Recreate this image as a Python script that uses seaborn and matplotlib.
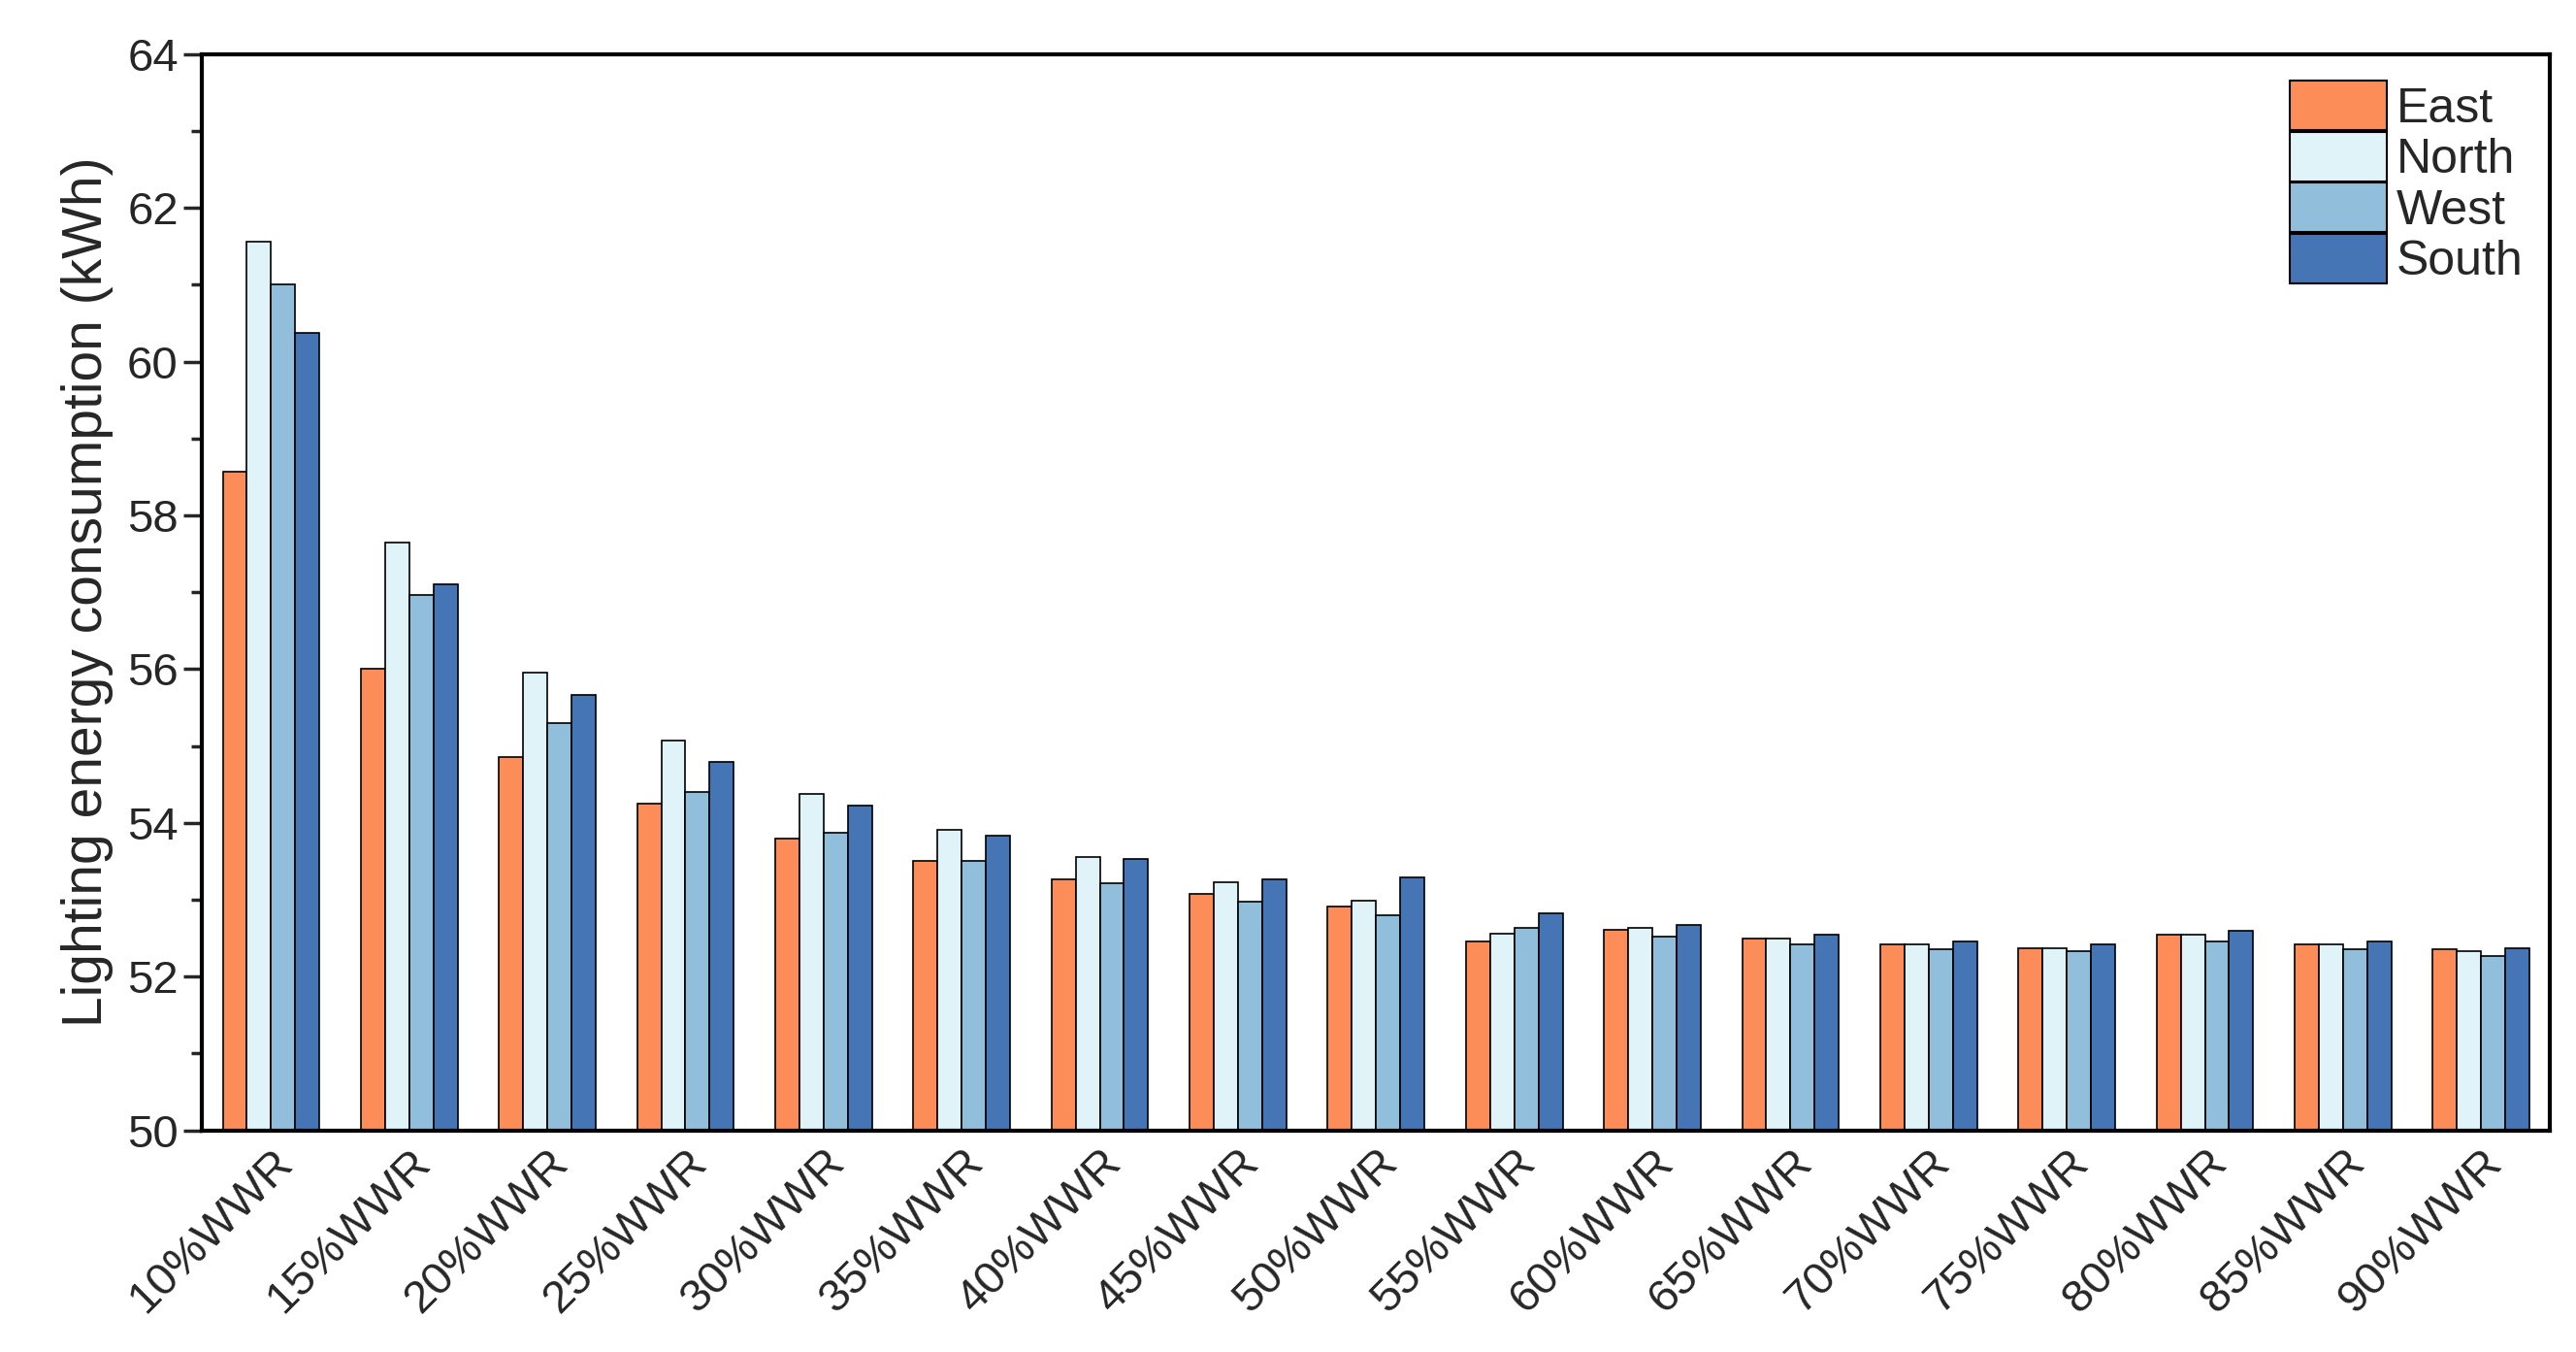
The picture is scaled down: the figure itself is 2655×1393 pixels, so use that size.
import matplotlib
matplotlib.use("Agg")
import matplotlib.pyplot as plt
import seaborn as sns
import pandas as pd
from matplotlib.ticker import MultipleLocator

categories = ["10%WWR", "15%WWR", "20%WWR", "25%WWR", "30%WWR", "35%WWR",
              "40%WWR", "45%WWR", "50%WWR", "55%WWR", "60%WWR", "65%WWR",
              "70%WWR", "75%WWR", "80%WWR", "85%WWR", "90%WWR"]
east = [58.57, 56.00, 54.85, 54.25, 53.80, 53.50, 53.27, 53.08, 52.91, 52.46,
        52.61, 52.50, 52.42, 52.37, 52.54, 52.42, 52.35]
north = [61.56, 57.65, 55.96, 55.07, 54.38, 53.91, 53.55, 53.23, 52.99, 52.56,
         52.63, 52.50, 52.42, 52.37, 52.54, 52.42, 52.33]
west = [61.01, 56.97, 55.30, 54.40, 53.87, 53.50, 53.21, 52.97, 52.80, 52.63,
        52.52, 52.42, 52.35, 52.33, 52.46, 52.35, 52.27]
south = [60.37, 57.10, 55.66, 54.79, 54.23, 53.83, 53.53, 53.27, 53.29, 52.82,
         52.67, 52.54, 52.46, 52.42, 52.59, 52.46, 52.37]
series_names = ["East", "North", "West", "South"]
colors = ["#FC8D59", "#E0F3F8", "#91BFDB", "#4575B4"]

rows = []
for name, vals in zip(series_names, [east, north, west, south]):
    for c, v in zip(categories, vals):
        rows.append({"WWR": c, "Orientation": name, "Energy": v})
df = pd.DataFrame(rows)

sns.set_style("ticks")
plt.rcParams['font.family'] = ['Liberation Sans', 'DejaVu Sans']

fig = plt.figure(figsize=(26.55, 13.93), dpi=100)
ax = fig.add_axes([0.0784, 0.164, 0.9116, 0.796])

sns.barplot(data=df, x="WWR", y="Energy", hue="Orientation",
            order=categories, hue_order=series_names,
            palette=colors, width=0.7, edgecolor="black", linewidth=1.2,
            saturation=1, ax=ax, errorbar=None)

ax.set_ylim(50, 64)
ax.set_xlim(-0.5, len(categories) - 0.5)
ax.yaxis.set_major_locator(MultipleLocator(2))
ax.yaxis.set_minor_locator(MultipleLocator(1))
ax.tick_params(axis='y', which='major', direction='out', length=14, width=2.5,
               labelsize=34)
ax.tick_params(axis='y', which='minor', direction='out', length=8, width=2.5)
ax.tick_params(axis='x', which='both', length=0, labelsize=34, pad=8)
for lab in ax.get_xticklabels():
    lab.set_rotation(45)
    lab.set_ha('right')
    lab.set_rotation_mode('anchor')

for sp in ax.spines.values():
    sp.set_visible(True)
    sp.set_linewidth(3)
    sp.set_color('black')

ax.set_xlabel("")
ax.set_ylabel("Lighting energy consumption (kWh)", fontsize=41, labelpad=10)

leg = ax.legend(loc="upper right", frameon=False, fontsize=36,
                handlelength=2.0, handleheight=1.2, labelspacing=0.0,
                handletextpad=0.2, borderaxespad=0.15)
for h in leg.legend_handles:
    h.set_edgecolor("black")
    h.set_linewidth(1.5)

fig.savefig("out.png", dpi=100)
